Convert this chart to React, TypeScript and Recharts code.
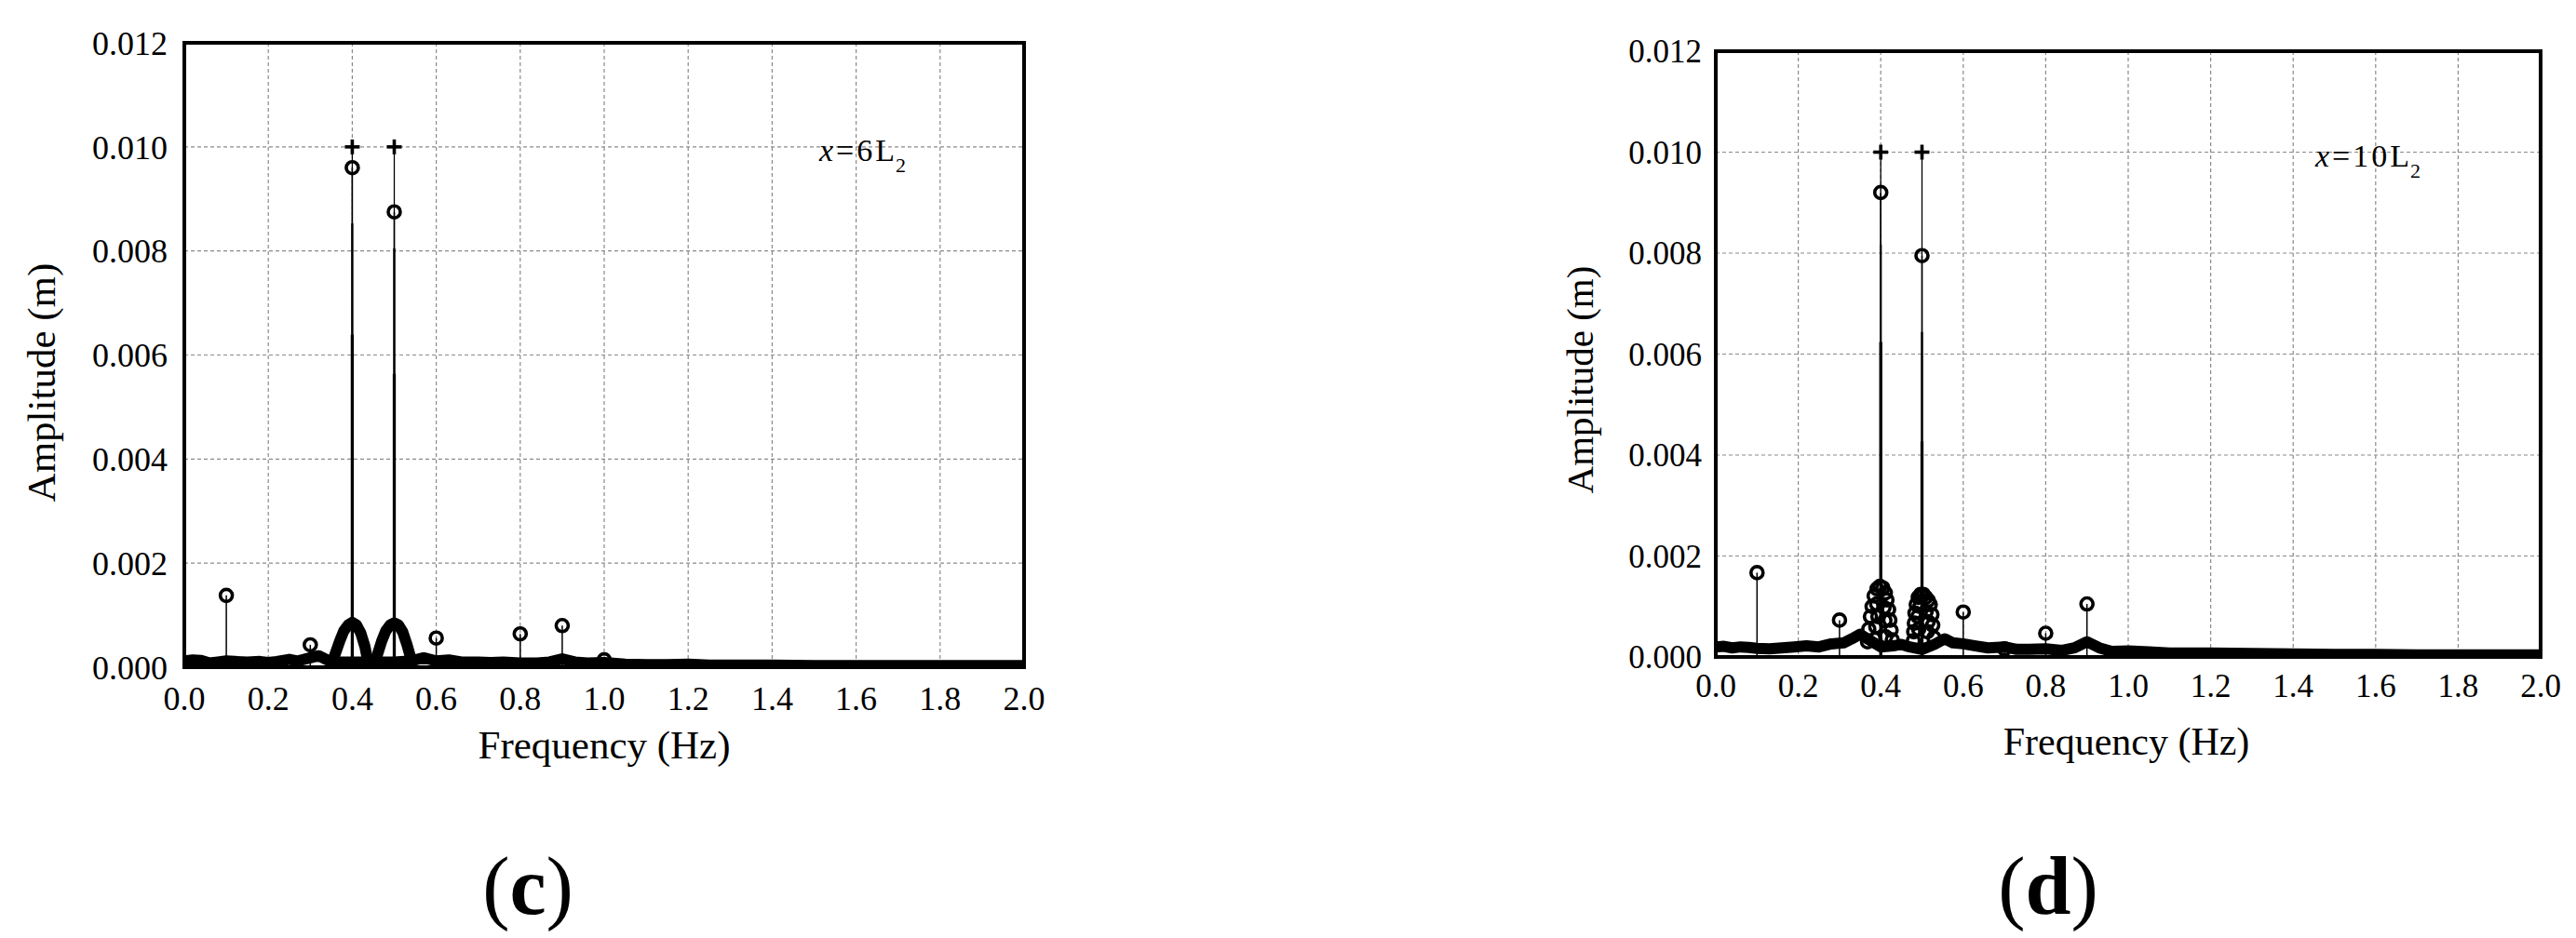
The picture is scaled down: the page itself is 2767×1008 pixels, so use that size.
import React from "react";
import { ComposedChart, Line, Scatter, XAxis, YAxis, CartesianGrid, ReferenceLine } from "recharts";

// axis ticks
const xTicks = [0, 0.2, 0.4, 0.6, 0.8, 1.0, 1.2, 1.4, 1.6, 1.8, 2.0];
const yTicks = [0, 0.002, 0.004, 0.006, 0.008, 0.01, 0.012];
const xMinor = Array.from({ length: 51 }, (_, i) => +(i * 0.04).toFixed(2)).filter(
  (v) => !xTicks.some((t) => Math.abs(t - v) < 1e-6)
);
const yMinor = Array.from({ length: 31 }, (_, i) => +(i * 0.0004).toFixed(4)).filter(
  (v) => !yTicks.some((t) => Math.abs(t - v) < 1e-9)
);

// (c) x = 6L2
const leftBand: [number, number][] = [
  [0, 0.00012], [0.02, 0.00014], [0.04, 0.00013], [0.06, 0.00008], [0.08, 0.0001], [0.1, 0.00012],
  [0.12, 0.00011], [0.15, 0.0001], [0.18, 0.00011], [0.2, 0.00009], [0.22, 0.00011], [0.25, 0.00015],
  [0.27, 0.00012], [0.3, 0.00018], [0.32, 0.00022], [0.34, 0.00014], [0.37, 0.0001], [0.4, 0.0001],
  [0.43, 0.0001], [0.46, 0.0001], [0.5, 0.0001], [0.54, 0.00012], [0.57, 0.00018], [0.6, 0.00012],
  [0.63, 0.00014], [0.66, 0.0001], [0.7, 0.0001], [0.73, 0.00009], [0.76, 0.0001], [0.8, 0.00008],
  [0.84, 0.00008], [0.87, 0.0001], [0.9, 0.00016], [0.93, 0.0001], [0.96, 0.00008], [1.0, 0.00009],
  [1.05, 0.00006], [1.1, 0.00005], [1.15, 0.00005], [1.2, 0.00006], [1.25, 0.00004], [1.3, 0.00004],
  [1.4, 0.00004], [1.5, 0.00003], [1.6, 0.00003], [1.7, 0.00003], [1.8, 0.00003], [1.9, 0.00003], [2.0, 0.00003],
];
const leftArch1: [number, number][] = [
  [0.35, 0.00005], [0.36, 0.00027], [0.37, 0.0005], [0.38, 0.0007], [0.39, 0.00081], [0.4, 0.00086],
  [0.41, 0.00081], [0.42, 0.00066], [0.43, 0.0004], [0.438, 0.00008],
];
const leftArch2: [number, number][] = [
  [0.453, 0.00005], [0.461, 0.00027], [0.47, 0.0005], [0.48, 0.0007], [0.49, 0.00081], [0.5, 0.00085],
  [0.51, 0.00081], [0.52, 0.00068], [0.53, 0.00044], [0.542, 0.0001],
];
const leftCircles: [number, number][] = [
  [0.1, 0.00138], [0.3, 0.00043], [0.4, 0.0096], [0.5, 0.00875], [0.6, 0.00056], [0.8, 0.00064], [0.9, 0.0008], [1.0, 0.00014],
];
const leftPlus: [number, number][] = [[0.4, 0.01], [0.5, 0.01]];
// freq, top, width
const leftSpikes: [number, number, number][] = [
  [0.4, 0.01, 1.3], [0.4, 0.00853, 2.3], [0.4, 0.00639, 3.3],
  [0.5, 0.01, 1.3], [0.5, 0.00805, 2.3], [0.5, 0.00564, 3.3],
];

// (d) x = 10L2
const rightBand: [number, number][] = [
  [0, 0.0002], [0.02, 0.00021], [0.04, 0.00018], [0.06, 0.0002], [0.08, 0.00019], [0.1, 0.00017],
  [0.13, 0.00016], [0.16, 0.00018], [0.19, 0.0002], [0.22, 0.00022], [0.25, 0.0002], [0.28, 0.00026],
  [0.31, 0.00028], [0.33, 0.00036], [0.35, 0.00045], [0.37, 0.00035], [0.4, 0.0002], [0.43, 0.00022],
  [0.45, 0.00025], [0.47, 0.0002], [0.5, 0.00015], [0.53, 0.00025], [0.555, 0.00036], [0.575, 0.00028],
  [0.6, 0.00026], [0.63, 0.00022], [0.66, 0.00018], [0.7, 0.0002], [0.73, 0.00015], [0.76, 0.00015],
  [0.8, 0.00016], [0.84, 0.00013], [0.87, 0.00018], [0.9, 0.0003], [0.93, 0.00018], [0.96, 0.00011],
  [1.0, 0.00012], [1.05, 0.0001], [1.1, 0.00008], [1.2, 0.00008], [1.3, 0.00007], [1.4, 0.00006],
  [1.5, 0.00005], [1.6, 0.00005], [1.7, 0.00004], [1.8, 0.00004], [1.9, 0.00004], [2.0, 0.00004],
];
const rightStack1: [number, number][] = [
  [0.368, 0.0003], [0.371, 0.00055], [0.375, 0.0008], [0.379, 0.001], [0.384, 0.00121], [0.391, 0.00135],
  [0.398, 0.0014], [0.405, 0.00137], [0.411, 0.00127], [0.415, 0.00113], [0.419, 0.00094], [0.422, 0.00073],
  [0.425, 0.00053], [0.428, 0.00034], [0.39, 0.00105], [0.393, 0.0008], [0.388, 0.0006], [0.408, 0.00098],
  [0.41, 0.00072], [0.386, 0.00035], [0.412, 0.0004],
];
const rightStack2: [number, number][] = [
  [0.479, 0.00032], [0.48, 0.0005], [0.4815, 0.00067], [0.483, 0.00087], [0.486, 0.00104], [0.491, 0.00118],
  [0.497, 0.00124], [0.503, 0.00124], [0.509, 0.00118], [0.515, 0.00112], [0.52, 0.00104], [0.524, 0.00084],
  [0.526, 0.00063], [0.529, 0.00038], [0.495, 0.001], [0.49, 0.0008], [0.51, 0.0009], [0.515, 0.0007],
  [0.492, 0.00055], [0.513, 0.0005],
];
const rightCircles: [number, number][] = [
  [0.1, 0.00167], [0.3, 0.00073], [0.4, 0.0092], [0.5, 0.00795], [0.6, 0.00089], [0.7, 0.00016], [0.8, 0.00047], [0.9, 0.00105],
];
const rightPlus: [number, number][] = [[0.4, 0.01], [0.5, 0.01]];
const rightSpikes: [number, number, number][] = [
  [0.4, 0.01, 1.3], [0.4, 0.00817, 2.3], [0.4, 0.00624, 3.3],
  [0.5, 0.01, 1.3], [0.5, 0.00644, 2.3], [0.5, 0.00427, 3.3],
];

const serif = "Liberation Serif";
const toRows = (a: [number, number][]) => a.map(([f, v]) => ({ f, v }));

const panels = [
  {
    left: 0, width: 1150, margin: { top: 46, right: 50, left: 0, bottom: 23 }, yWidth: 198,
    font: 36, xMargin: 20, yMargin: 18,
    band: leftBand, arches: [leftArch1, leftArch2], circles: leftCircles, stacks: [] as [number, number][],
    plus: leftPlus, spikes: leftSpikes,
  },
  {
    left: 1600, width: 1167, margin: { top: 55, right: 38, left: 0, bottom: 34 }, yWidth: 243,
    font: 35, xMargin: 18, yMargin: 15,
    band: rightBand, arches: [] as [number, number][][], circles: rightCircles, stacks: [...rightStack1, ...rightStack2],
    plus: rightPlus, spikes: rightSpikes,
  },
];

const frame = { stroke: "#000", strokeWidth: 4, strokeLinecap: "square" as const };
const tickLn = { stroke: "#000", strokeWidth: 3.5 };

const Ring = (p: any) => (
  <circle cx={p.cx} cy={p.cy} r={6.5} fill="none" stroke="#000" strokeWidth={3.6} />
);
const Cross = (p: any) => (
  <g stroke="#000" strokeWidth={3.6}>
    <line x1={p.cx - 8} x2={p.cx + 8} y1={p.cy} y2={p.cy} />
    <line x1={p.cx} x2={p.cx} y1={p.cy - 8} y2={p.cy + 8} />
  </g>
);

const XTick = ({ x, y, payload, size }: any) => (
  <text x={x} y={y} dy="0.71em" textAnchor="middle" fontFamily={serif} fontSize={size} fill="#000">
    {Number(payload.value).toFixed(1)}
  </text>
);
const YTick = ({ x, y, payload, size }: any) => (
  <text x={x} y={y} dy="0.355em" textAnchor="end" fontFamily={serif} fontSize={size} fill="#000">
    {Number(payload.value).toFixed(3)}
  </text>
);

function Panel({ c }: any) {
  const axisCommon = { type: "number" as const, allowDataOverflow: true, interval: 0 as const };
  return (
    <div style={{ position: "absolute", left: c.left, top: 0 }}>
      <ComposedChart width={c.width} height={800} margin={c.margin}>
        <CartesianGrid stroke="#8a8a8a" strokeDasharray="4 3" strokeWidth={1.2} />
        <Line data={toRows(c.band)} dataKey="v" type="linear" stroke="#000" strokeWidth={12}
          strokeLinejoin="round" strokeLinecap="butt" dot={false} isAnimationActive={false} />
        {c.arches.map((a: [number, number][], i: number) => (
          <Line key={"a" + i} data={toRows(a)} dataKey="v" type="linear" stroke="#000" strokeWidth={12}
            strokeLinejoin="round" strokeLinecap="round" dot={false} isAnimationActive={false} />
        ))}
        {c.spikes.map(([f, v, w]: [number, number, number], i: number) => (
          <ReferenceLine key={"s" + i} segment={[{ x: f, y: 0 }, { x: f, y: v }]} stroke="#000" strokeWidth={w} />
        ))}
        {c.circles.map(([f, v]: [number, number], i: number) => (
          <ReferenceLine key={"c" + i} segment={[{ x: f, y: 0 }, { x: f, y: v }]} stroke="#000" strokeWidth={1.5} />
        ))}
        <Scatter data={toRows(c.stacks)} dataKey="v" shape={Ring} isAnimationActive={false} />
        <Scatter data={toRows(c.circles)} dataKey="v" shape={Ring} isAnimationActive={false} />
        <Scatter data={toRows(c.plus)} dataKey="v" shape={Cross} isAnimationActive={false} />

        <XAxis {...axisCommon} dataKey="f" domain={[0, 2]} ticks={xTicks} height={60}
          tickLine={false} tickSize={0} tickMargin={c.xMargin}
          axisLine={frame} tick={<XTick size={c.font} />} />
        <XAxis {...axisCommon} xAxisId="bM" orientation="bottom" mirror height={1} domain={[0, 2]} ticks={xTicks}
          tick={false} tickSize={12} tickLine={tickLn} axisLine={false} />
        <XAxis {...axisCommon} xAxisId="bm" orientation="bottom" mirror height={1} domain={[0, 2]} ticks={xMinor}
          tick={false} tickSize={7} tickLine={tickLn} axisLine={false} />
        <XAxis {...axisCommon} xAxisId="tM" orientation="top" mirror height={1} domain={[0, 2]} ticks={xTicks}
          tick={false} tickSize={12} tickLine={tickLn} axisLine={frame} />
        <XAxis {...axisCommon} xAxisId="tm" orientation="top" mirror height={1} domain={[0, 2]} ticks={xMinor}
          tick={false} tickSize={7} tickLine={tickLn} axisLine={false} />

        <YAxis {...axisCommon} domain={[0, 0.012]} ticks={yTicks} width={c.yWidth}
          tickLine={false} tickSize={0} tickMargin={c.yMargin}
          axisLine={frame} tick={<YTick size={c.font} />} />
        <YAxis {...axisCommon} yAxisId="lM" orientation="left" mirror width={1} domain={[0, 0.012]} ticks={yTicks}
          tick={false} tickSize={12} tickLine={tickLn} axisLine={false} />
        <YAxis {...axisCommon} yAxisId="lm" orientation="left" mirror width={1} domain={[0, 0.012]} ticks={yMinor}
          tick={false} tickSize={7} tickLine={tickLn} axisLine={false} />
        <YAxis {...axisCommon} yAxisId="rM" orientation="right" mirror width={1} domain={[0, 0.012]} ticks={yTicks}
          tick={false} tickSize={12} tickLine={tickLn} axisLine={frame} />
        <YAxis {...axisCommon} yAxisId="rm" orientation="right" mirror width={1} domain={[0, 0.012]} ticks={yMinor}
          tick={false} tickSize={7} tickLine={tickLn} axisLine={false} />
      </ComposedChart>
    </div>
  );
}

export default function App() {
  return (
    <div style={{ position: "absolute", left: 0, top: 0, width: 2767, height: 1008, background: "#fff" }}>
      {panels.map((c, i) => (
        <Panel key={i} c={c} />
      ))}
      <svg width={2767} height={1008} style={{ position: "absolute", left: 0, top: 0, pointerEvents: "none" }}
        fontFamily={serif} fill="#000">
        <text x={44} y={411} fontSize={43} textAnchor="middle" dominantBaseline="central" transform="rotate(-90 44 411)">
          Amplitude (m)
        </text>
        <text x={649} y={800} fontSize={43} textAnchor="middle" dominantBaseline="central">Frequency (Hz)</text>
        <text x={880} y={173} fontSize={34} letterSpacing={3}>
          <tspan fontStyle="italic">x</tspan>=6L<tspan fontSize={22} dx={-2} dy={12}>2</tspan>
        </text>
        <text x={567} y={952} fontSize={88} textAnchor="middle" dominantBaseline="central">
          (<tspan fontWeight="bold">c</tspan>)
        </text>

        <text x={1697} y={408} fontSize={41} textAnchor="middle" dominantBaseline="central" transform="rotate(-90 1697 408)">
          Amplitude (m)
        </text>
        <text x={2284} y={797} fontSize={42} textAnchor="middle" dominantBaseline="central">Frequency (Hz)</text>
        <text x={2487} y={179} fontSize={34} letterSpacing={3}>
          <tspan fontStyle="italic">x</tspan>=10L<tspan fontSize={22} dx={-2} dy={12}>2</tspan>
        </text>
        <text x={2200} y={952} fontSize={88} textAnchor="middle" dominantBaseline="central">
          (<tspan fontWeight="bold">d</tspan>)
        </text>
      </svg>
    </div>
  );
}
